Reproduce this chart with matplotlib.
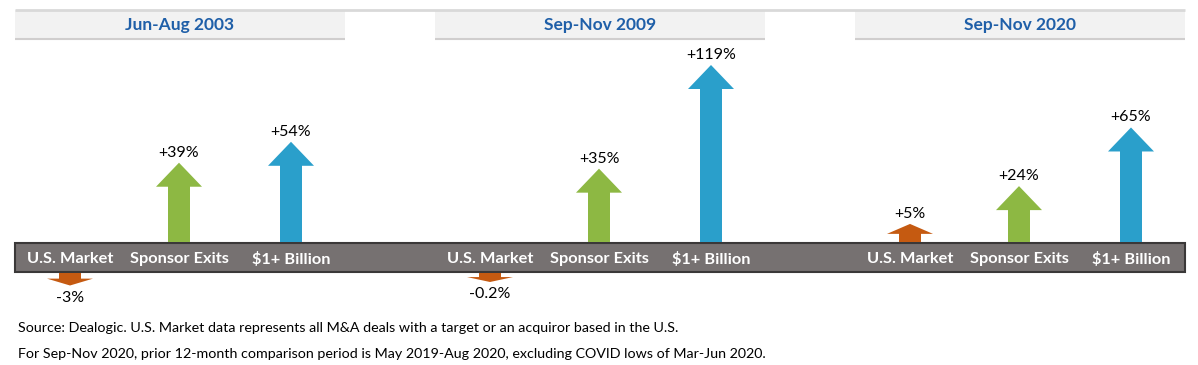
import numpy as np
import matplotlib
matplotlib.use("Agg")
import matplotlib.pyplot as plt
from matplotlib.patches import Rectangle, Polygon

plt.rcParams['font.family'] = ['Lato', 'DejaVu Sans']

# ----------------------------- data ----------------------------- #
periods = ['Jun-Aug 2003', 'Sep-Nov 2009', 'Sep-Nov 2020']
categories = ['U.S. Market', 'Sponsor Exits', '$1+ Billion']
us_market = [-3, -0.2, 5]
sponsor_exits = [39, 35, 24]
billion_plus = [54, 119, 65]
colors = ['#C55A11', '#8DB843', '#2A9FCB']
notes = [
    'Source: Dealogic. U.S. Market data represents all M&A deals with a target or an acquiror based in the U.S.',
    'For Sep-Nov 2020, prior 12-month comparison period is May 2019-Aug 2020, excluding COVID lows of Mar-Jun 2020.',
]

W, H = 1198, 365
fig = plt.figure(figsize=(W / 100, H / 100), dpi=100)

# background layer in pixel coords
bg = fig.add_axes([0, 0, 1, 1])
bg.set_xlim(0, W)
bg.set_ylim(H, 0)
bg.axis('off')

panel_x = [0, 420, 840]
cat_x = [70, 179, 291]
band_top, band_bot = 243, 272

# header strip
bg.plot([15, 1185], [9.5, 9.5], color='#D9D9D9', lw=2, solid_capstyle='butt')
for px, name in zip(panel_x, periods):
    bg.add_patch(Rectangle((15 + px, 10), 330, 28, facecolor='#F2F2F2', edgecolor='none'))
    bg.plot([15 + px, 345 + px], [38.5, 38.5], color='#D0CECE', lw=1.5, solid_capstyle='butt')
    bg.text(180 + px, 25, name, ha='center', va='center', fontsize=12.5,
            fontweight='bold', color='#1F5FA8')

# grey band with category labels
bg.add_patch(Rectangle((15, band_top), 1170, band_bot - band_top, facecolor='#767171',
                       edgecolor='#3A3838', lw=1.5))
for px in panel_x:
    for cx, cat in zip(cat_x, categories):
        bg.text(cx + px, 259, cat, ha='center', va='center', fontsize=11.8,
                fontweight='bold', color='white')

for i, note in enumerate(notes):
    bg.text(18, 328 + i * 26, note, ha='left', va='center', fontsize=10.3, color='black')


# ----------------------------- arrows ----------------------------- #
P = 0.72
PX = 5.67  # pixels per scaled unit


def fwd(v):
    v = np.asarray(v, dtype=float)
    return np.sign(v) * np.abs(v) ** P


def inv(u):
    u = np.asarray(u, dtype=float)
    return np.sign(u) * np.abs(u) ** (1 / P)


def make_axes(top_px, bot_px):
    ax = fig.add_axes([0, (H - bot_px) / H, 1, (bot_px - top_px) / H])
    ax.set_yscale('function', functions=(fwd, inv))
    ax.set_xlim(0, W)
    ax.axis('off')
    return ax


up = make_axes(40, band_top - 1)
up.set_ylim(0, float(inv((band_top - 1 - 40) / PX)))
dn = make_axes(band_bot + 1, 312)
dn.set_ylim(-float(inv((312 - band_bot - 1) / PX)), 0)


def arrow(ax, cx, v, color):
    s = np.sign(v)
    length = max(9, PX * float(fwd(abs(v))))  # keep tiny changes visible
    tip = s * float(inv(length / PX))
    head = min(24, 0.55 * length)
    ys = s * float(inv((length - head) / PX))
    hw, sw = 46, 22
    pts = [(cx - sw / 2, 0), (cx - sw / 2, ys), (cx - hw / 2, ys), (cx, tip),
           (cx + hw / 2, ys), (cx + sw / 2, ys), (cx + sw / 2, 0)]
    ax.add_patch(Polygon(pts, closed=True, facecolor=color, edgecolor='none'))
    off = 10 if v > 0 else -12
    ax.annotate(f'{v:+g}%', (cx, tip), xytext=(0, off), textcoords='offset pixels',
                ha='center', va='center', fontsize=11.5, color='black')


for i, px in enumerate(panel_x):
    vals = [us_market[i], sponsor_exits[i], billion_plus[i]]
    for cx, v, c in zip(cat_x, vals, colors):
        arrow(up if v > 0 else dn, cx + px, v, c)

fig.savefig('out.png', dpi=100)
